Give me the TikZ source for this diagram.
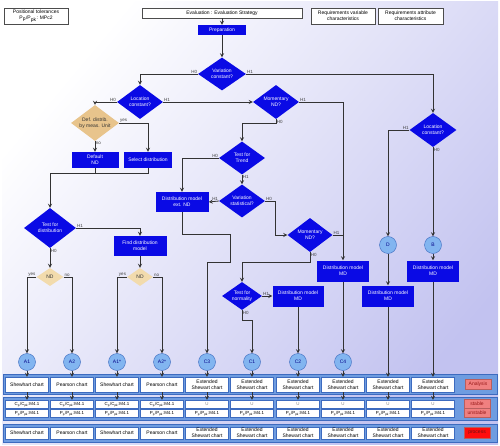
\documentclass[tikz,border=0pt]{standalone}
\usepackage{fontspec}
\setmainfont{Liberation Sans}
\usepackage{tikz}
\usetikzlibrary{shapes.geometric}
\usetikzlibrary{calc}
\definecolor{flowblue}{rgb}{0.04, 0.04, 0.9}
\definecolor{sandtan}{rgb}{0.91, 0.77, 0.55}
\definecolor{lighttan}{rgb}{0.95, 0.86, 0.68}
\definecolor{bubbleblue}{rgb}{0.51, 0.71, 0.94}
\definecolor{stripblue}{rgb}{0.43, 0.61, 0.88}
\definecolor{cellframe}{rgb}{0.24, 0.42, 0.75}
\definecolor{lavender}{rgb}{0.76, 0.76, 0.94}
\definecolor{softred}{rgb}{0.94, 0.5, 0.5}
\definecolor{darkred}{rgb}{0.6, 0.1, 0.1}
\definecolor{signalred}{rgb}{1.0, 0.05, 0.05}

\tikzset{
  txt/.style={font=\fontsize{5}{5.8}\selectfont},
  proc/.style={txt, rectangle, fill=flowblue, text=white, align=center, inner sep=0pt},
  decide/.style={txt, diamond, aspect=1.4, fill=flowblue, text=white, align=center, inner sep=0pt},
  tandecide/.style={decide, fill=sandtan, text=black!80},
  bubble/.style={txt, circle, fill=bubbleblue, draw=cellframe, text=flowblue!60!black, minimum size=17pt, inner sep=0pt},
  cell/.style={txt, rectangle, fill=white, draw=cellframe, minimum width=43pt, align=center, inner sep=0pt},
  subcell/.style={cell, font=\fontsize{4.4}{4.6}\selectfont, text height=3.4pt, text depth=1pt, minimum height=8pt},
  head/.style={txt, rectangle, fill=white, draw=black!70, align=center, inner sep=0pt},
  flag/.style={txt, rectangle, fill=softred, draw=darkred!70, text=darkred, minimum width=26pt, inner sep=0pt},
  lab/.style={font=\fontsize{4.5}{5}\selectfont, text=black!75, inner sep=0.6pt},
  wire/.style={black!80, line width=0.8pt},
  flow/.style={wire, ->},
  strip/.style={fill=stripblue, draw=cellframe},
}

\begin{document}
\begin{tikzpicture}[x=1pt, y=-1pt, >=stealth]
	\useasboundingbox (0,0) rectangle (500,446);
	\shade[top color=white, bottom color=lavender, shading angle=50] (2,2) rectangle (498,444);

	\def\cpk{C\textsubscript{p}/C\textsubscript{pk}:M4.1}
	\def\ppk{P\textsubscript{p}/P\textsubscript{pk}:M4.1}

	% header boxes
	\node[head, minimum width=64pt, minimum height=16pt] (postol) at (36,16) {Positional tolerances\\P\textsubscript{p}/P\textsubscript{pk}: MPc2};
	\node[head, minimum width=160pt, minimum height=10pt] (eval) at (222,13) {Evaluation : Evaluation Strategy};
	\node[head, minimum width=64pt, minimum height=16pt] (reqv) at (343,16) {Requirements variable\\characteristics};
	\node[head, minimum width=65pt, minimum height=16pt] (reqa) at (410.5,16) {Requirements attribute\\characteristics};

	% flow chart
	\node[proc, minimum width=48pt, minimum height=10pt] (prep) at (222,30) {Preparation};
	\node[decide, minimum width=48pt, minimum height=33pt] (varc) at (222,74) {Variation\\constant?};
	\node[decide, minimum width=46pt, minimum height=34pt] (locc) at (140,102) {Location\\constant?};
	\node[decide, minimum width=46pt, minimum height=34pt] (momnd) at (276,102) {Momentary\\ND?};
	\node[decide, minimum width=47pt, minimum height=34pt] (locr) at (433,130) {Location\\constant?};
	\node[tandecide, minimum width=48pt, minimum height=36pt] (defd) at (95,123) {Def. distrib.\\by meas. Unit};
	\node[proc, minimum width=47pt, minimum height=16pt] (defnd) at (95,160) {Default\\ND};
	\node[proc, minimum width=48pt, minimum height=16pt] (seld) at (148,160) {Select distribution};
	\node[decide, minimum width=46pt, minimum height=33pt] (trend) at (242,158) {Test for\\Trend};
	\node[decide, minimum width=46pt, minimum height=33pt] (vstat) at (242,201) {Variation\\statistical?};
	\node[proc, minimum width=53pt, minimum height=20pt] (extnd) at (182,202) {Distribution model\\ext. ND};
	\node[decide, minimum width=45pt, minimum height=34pt] (momd) at (310,235) {Momentary\\ND?};
	\node[decide, minimum width=40pt, minimum height=28pt] (norm) at (242,296) {Test for\\normality};
	\node[proc, minimum width=51pt, minimum height=21pt] (mdn) at (298,296) {Distribution model\\MD};
	\node[proc, minimum width=52pt, minimum height=21pt] (mdm) at (343,271) {Distribution model\\MD};
	\node[bubble] (dcirc) at (388,245) {D};
	\node[bubble] (bcirc) at (433,245) {B};
	\node[proc, minimum width=52pt, minimum height=21pt] (mdd) at (388,296) {Distribution model\\MD};
	\node[proc, minimum width=52pt, minimum height=21pt] (mdb) at (433,271) {Distribution model\\MD};
	\node[decide, minimum width=52pt, minimum height=40pt] (tdist) at (50,228) {Test for\\distribution};
	\node[proc, minimum width=53pt, minimum height=20pt] (fdm) at (140,246) {Find distribution\\model};
	\node[tandecide, fill=lighttan, minimum width=27pt, minimum height=18pt] (nd1) at (50,277) {ND};
	\node[tandecide, fill=lighttan, minimum width=26pt, minimum height=18pt] (nd2) at (140,277) {ND};

	\node[bubble] (a1) at (27,362) {A1};
	\node[bubble] (a2) at (72,362) {A2};
	\node[bubble] (a1s) at (117,362) {A1*};
	\node[bubble] (a2s) at (162,362) {A2*};
	\node[bubble] (c3) at (207,362) {C3};
	\node[bubble] (c1) at (252,362) {C1};
	\node[bubble] (c2) at (298,362) {C2};
	\node[bubble] (c4) at (343,362) {C4};

	\draw[flow] (eval.south) -- (prep.north);
	\draw[flow] (prep.south) -- (varc.north);
	\draw[flow] (varc.west) -| (locc.north);
	\node[lab, above left] at (varc.west) {H0};
	\draw[flow] (varc.east) -| (locr.north);
	\node[lab, above right] at (varc.east) {H1};
	\draw[flow] (locc.west) -| (defd.north);
	\node[lab, above left] at (locc.west) {H0};
	\draw[flow] (locc.east) -- (momnd.west);
	\node[lab, above right] at (locc.east) {H1};
	\draw[flow] (momnd.east) -| (mdm.north);
	\node[lab, above right] at (momnd.east) {H1};
	\draw[flow] (momnd.south) -- ++(0,4) -| (trend.north);
	\node[lab, below right] at (momnd.south) {H0};
	\draw[flow] (trend.west) -| (extnd.north);
	\node[lab, above left] at (trend.west) {H0};
	\draw[flow] (trend.south) -- (vstat.north);
	\node[lab, below right] at (trend.south) {H1};
	\draw[flow] (vstat.west) -- (extnd.east);
	\node[lab, above left] at (vstat.west) {H1};
	\draw[flow] (vstat.east) -- ++(10,0) |- (momd.west);
	\node[lab, above right] at (vstat.east) {H0};
	\draw[wire] (momd.east) -- (momd.east -| mdm.north);
	\node[lab, above right] at (momd.east) {H1};
	\draw[flow] (momd.south) -- ++(0,10) -| (norm.north);
	\node[lab, below right] at (momd.south) {H0};
	\draw[flow] (norm.east) -- (mdn.west);
	\node[lab, above right] at (norm.east) {H1};
	\draw[flow] (norm.south) -- ++(0,10) -| (c1.north);
	\node[lab, below right] at (norm.south) {H0};
	\draw[flow] (extnd.south) -- ++(0,22) -- ++(48,0) -- ++(0,28) -| (c3.north);
	\draw[flow] (mdn.south) -- (c2.north);
	\draw[flow] (mdm.south) -- (c4.north);

	\draw[flow] (locr.west) -| (dcirc.north);
	\node[lab, above left] at (locr.west) {H1};
	\draw[flow] (locr.south) -- (bcirc.north);
	\node[lab, below right] at (locr.south) {H0};
	\draw[flow] (dcirc.south) -- (mdd.north);
	\draw[flow] (bcirc.south) -- (mdb.north);

	\draw[flow] (defd.east) -| (seld.north);
	\node[lab, above right] at (defd.east) {yes};
	\draw[flow] (defd.south) -- (defnd.north);
	\node[lab, below right] at (defd.south) {no};
	\draw[wire] (defnd.south) -- ++(0,5);
	\draw[flow] (seld.south) -- ++(0,5) -| (tdist.north);
	\draw[flow] (tdist.east) -| (fdm.north);
	\node[lab, above right] at (tdist.east) {H1};
	\draw[flow] (tdist.south) -- (nd1.north);
	\node[lab, below right] at (tdist.south) {H0};
	\draw[flow] (nd1.west) -| (a1.north);
	\node[lab, above left] at (nd1.west) {yes};
	\draw[flow] (nd1.east) -| (a2.north);
	\node[lab, above right] at (nd1.east) {no};
	\draw[flow] (fdm.south) -- (nd2.north);
	\draw[flow] (nd2.west) -| (a1s.north);
	\node[lab, above left] at (nd2.west) {yes};
	\draw[flow] (nd2.east) -| (a2s.north);
	\node[lab, above right] at (nd2.east) {no};

	% result table
	\fill[strip] (3,374) rectangle (497,394);
	\fill[strip] (3,397) rectangle (497,420);
	\fill[strip] (3,424) rectangle (497,442);
	\draw[cellframe] (3,374) rectangle (497,394);
	\draw[cellframe] (3,397) rectangle (497,420);
	\draw[cellframe] (3,424) rectangle (497,442);

	\node[cell, minimum height=15pt] (s1) at (27,384.5) {Shewhart chart};
	\node[cell, minimum height=15pt] (s2) at (72,384.5) {Pearson chart};
	\node[cell, minimum height=15pt] (s3) at (117,384.5) {Shewhart chart};
	\node[cell, minimum height=15pt] (s4) at (162,384.5) {Pearson chart};
	\node[cell, minimum height=15pt] (s5) at (207,384.5) {Extended\\Shewart chart};
	\node[cell, minimum height=15pt] (s6) at (252,384.5) {Extended\\Shewart chart};
	\node[cell, minimum height=15pt] (s7) at (298,384.5) {Extended\\Shewart chart};
	\node[cell, minimum height=15pt] (s8) at (343,384.5) {Extended\\Shewart chart};
	\node[cell, minimum height=15pt] (s9) at (388,384.5) {Extended\\Shewart chart};
	\node[cell, minimum height=15pt] (s10) at (433,384.5) {Extended\\Shewart chart};

	\node[subcell] (u1) at (27,404) {\cpk};
	\node[subcell] (u2) at (72,404) {\cpk};
	\node[subcell] (u3) at (117,404) {\cpk};
	\node[subcell] (u4) at (162,404) {\cpk};
	\node[subcell, text=black!45] (u5) at (207,404) {U};
	\node[subcell, text=black!45] (u6) at (252,404) {U};
	\node[subcell, text=black!45] (u7) at (298,404) {U};
	\node[subcell, text=black!45] (u8) at (343,404) {U};
	\node[subcell, text=black!45] (u9) at (388,404) {U};
	\node[subcell, text=black!45] (u10) at (433,404) {U};

	\node[subcell] (l1) at (27,413) {\ppk};
	\node[subcell] (l2) at (72,413) {\ppk};
	\node[subcell] (l3) at (117,413) {\ppk};
	\node[subcell] (l4) at (162,413) {\ppk};
	\node[subcell] (l5) at (207,413) {\ppk};
	\node[subcell] (l6) at (252,413) {\ppk};
	\node[subcell] (l7) at (298,413) {\ppk};
	\node[subcell] (l8) at (343,413) {\ppk};
	\node[subcell] (l9) at (388,413) {\ppk};
	\node[subcell] (l10) at (433,413) {\ppk};

	\node[cell, minimum height=12pt] (p1) at (27,433) {Shewhart chart};
	\node[cell, minimum height=12pt] (p2) at (72,433) {Pearson chart};
	\node[cell, minimum height=12pt] (p3) at (117,433) {Shewhart chart};
	\node[cell, minimum height=12pt] (p4) at (162,433) {Pearson chart};
	\node[cell, minimum height=12pt] (p5) at (207,433) {Extended\\Shewart chart};
	\node[cell, minimum height=12pt] (p6) at (252,433) {Extended\\Shewart chart};
	\node[cell, minimum height=12pt] (p7) at (298,433) {Extended\\Shewart chart};
	\node[cell, minimum height=12pt] (p8) at (343,433) {Extended\\Shewart chart};
	\node[cell, minimum height=12pt] (p9) at (388,433) {Extended\\Shewart chart};
	\node[cell, minimum height=12pt] (p10) at (433,433) {Extended\\Shewart chart};

	\node[flag, minimum height=10pt] (anal) at (478,384) {Analysis};
	\node[flag, minimum height=9pt] (stab) at (477,403.5) {stable};
	\node[flag, minimum height=9pt] (unstab) at (477,413) {unstable};
	\node[flag, fill=signalred, text=darkred!70!black, minimum height=11pt] (procs) at (477,433) {process};

	\draw[flow] (a1.south) -- (s1.north);
	\draw[flow] (a2.south) -- (s2.north);
	\draw[flow] (a1s.south) -- (s3.north);
	\draw[flow] (a2s.south) -- (s4.north);
	\draw[flow] (c3.south) -- (s5.north);
	\draw[flow] (c1.south) -- (s6.north);
	\draw[flow] (c2.south) -- (s7.north);
	\draw[flow] (c4.south) -- (s8.north);
	\draw[flow] (mdd.south) -- (s9.north);
	\draw[flow] (mdb.south) -- (s10.north);

	\draw[flow] (s1.south) -- (u1.north);
	\draw[flow] (s2.south) -- (u2.north);
	\draw[flow] (s3.south) -- (u3.north);
	\draw[flow] (s4.south) -- (u4.north);
	\draw[flow] (s5.south) -- (u5.north);
	\draw[flow] (s6.south) -- (u6.north);
	\draw[flow] (s7.south) -- (u7.north);
	\draw[flow] (s8.south) -- (u8.north);
	\draw[flow] (s9.south) -- (u9.north);
	\draw[flow] (s10.south) -- (u10.north);
\end{tikzpicture}
\end{document}
